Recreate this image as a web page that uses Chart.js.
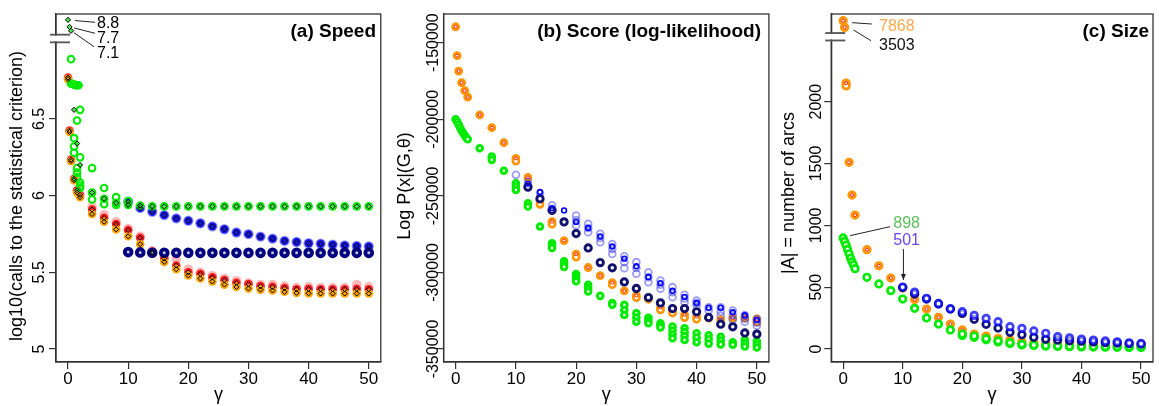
<!DOCTYPE html>
<html><head><meta charset="utf-8">
<script src="https://cdn.jsdelivr.net/npm/chart.js@4.4.1/dist/chart.umd.min.js"></script>
<style>
html,body{margin:0;padding:0;background:#fff;width:1159px;height:406px;overflow:hidden;}
.p{position:absolute;top:0;height:406px;}
</style></head><body>
<div class="p" style="left:0;width:388px"><canvas id="ca"></canvas></div>
<div class="p" style="left:388px;width:387px"><canvas id="cb"></canvas></div>
<div class="p" style="left:775px;width:384px"><canvas id="cc"></canvas></div>
<script>
// ---------- tick labels ----------
const gammaTicks = [0,10,20,30,40,50];
const speedTicks = [5,5.5,6,6.5];
const scoreTicks = [-350000,-300000,-250000,-200000,-150000];
const sizeTicks = [0,500,1000,1500,2000];

// ---------- gamma categories ----------
const gammaA = [0,0.25,0.5,1,1.5,2,4,6,8,10,12,14,16,18,20,22,24,26,28,30,32,34,36,38,40,42,44,46,48,50];
const gammaB = [10,12,14,16,18,20,22,24,26,28,30,32,34,36,38,40,42,44,46,48,50];
const gammaC = [4,6,8,10,12,14,16,18,20,22,24,26,28,30,32,34,36,38,40,42,44,46,48,50];
const gammaFine = [0,0.25,0.5,0.75,1,1.25,1.5,1.75,2];

// ---------- (a) Speed ----------
const speedOrange = [6.76,6.415,6.225,6.10,6.02,5.99,5.88,5.83,5.78,5.735,5.684,5.623,5.568,5.52,5.48,5.46,5.44,5.42,5.405,5.395,5.387,5.382,5.373,5.366,5.363,5.362,5.362,5.362,5.362,5.362];
const speedRed = [6.77,6.425,6.235,6.11,6.035,6.005,5.91,5.855,5.815,5.775,5.725,5.635,5.59,5.545,5.50,5.49,5.467,5.45,5.432,5.423,5.41,5.405,5.397,5.39,5.392,5.39,5.39,5.39,5.392,5.39];
const speedPink = [5.93,5.875,5.83,5.785,5.735,5.64,5.60,5.585,5.52,5.50,5.478,5.46,5.445,5.43,5.42,5.42,5.41,5.40,5.405,5.40,5.40,5.40,5.42,5.405];
const speedGreenDiamond = [8.8,7.7,7.1,6.56,6.34,6.20,6.02,5.98,5.953,5.94,5.935,5.93,5.93,5.93,5.93,5.93,5.93,5.93,5.93,5.93,5.93,5.93,5.93,5.93,5.93,5.93,5.93,5.93,5.93,5.93];
const speedGreenG = [0.5,0.5,0.75,1,1.25,1.5,1.75,2,1.5,1,1,1,2,1.5,1.5,1.5,2,2,2,4,4,4,6,6,6,8,8,8,10,10,12,14,16,18,20,22,24,26,28,30,32,34,36,38,40,42,44,46,48,50];
const speedGreenV = [6.89,6.73,6.73,6.725,6.72,6.72,6.72,6.56,6.49,6.375,6.32,6.28,6.25,6.18,6.15,6.12,6.085,6.065,6.05,6.18,6.02,5.975,6.05,5.98,5.945,5.99,5.953,5.94,5.965,5.94,5.935,5.93,5.93,5.93,5.93,5.93,5.93,5.93,5.93,5.93,5.93,5.93,5.93,5.93,5.93,5.93,5.93,5.93,5.93,5.93];
const speedBlue = [5.96,5.92,5.895,5.873,5.852,5.836,5.82,5.80,5.781,5.76,5.749,5.733,5.72,5.705,5.698,5.69,5.686,5.681,5.676,5.672,5.669];
const speedNavy = [5.632,5.630,5.628,5.627,5.627,5.627,5.627,5.627,5.627,5.627,5.627,5.627,5.627,5.627,5.627,5.627,5.627,5.627,5.627,5.627,5.627];
const speedBreak = [7.0,7.05];

// ---------- (b) Score ----------
const scoreOrange = [-139600,-158500,-168500,-176100,-181300,-185600,-197200,-205500,-215300,-225500,-238000,-253000,-266800,-279200,-288100,-296800,-302100,-306600,-312100,-315100,-317500,-322900,-325100,-327700,-328800,-329800,-330900,-329800,-329800,-330400];
const scoreOrange2G = [10,12,14,16,20,26,30,34,36,38,40,50];
const scoreOrange2V = [-227300,-243500,-255500,-268500,-290000,-308000,-316500,-324500,-326500,-329500,-330500,-332500];
const scoreGreenG = [0,0.25,0.5,0.75,1,1.25,1.5,1.75,2,4,6,6,8,10,10,10,12,12,14,16,16,16,18,18,18,20,20,20,20,22,22,22,24,26,26,28,28,28,30,30,30,32,32,32,34,34,34,36,36,36,36,38,38,38,38,40,40,40,42,42,42,44,44,44,46,46,48,48,48,50,50,50];
const scoreGreenV = [-200000,-201500,-203500,-205500,-207500,-209000,-210500,-212000,-213000,-218900,-224400,-226500,-233600,-241800,-244000,-246200,-254800,-257000,-270000,-281000,-282500,-284000,-292800,-294500,-296400,-301000,-302600,-304200,-305800,-308000,-310200,-312400,-315300,-320000,-321000,-321200,-324500,-327800,-326700,-329500,-332200,-329600,-331400,-333200,-333200,-334600,-335900,-335400,-338000,-340500,-343000,-336500,-339000,-341500,-344100,-339700,-342600,-345600,-341000,-343700,-346500,-342000,-344500,-347000,-345600,-347200,-344000,-346200,-348400,-345000,-347000,-349000];
const scoreNavyG = [12,14,16,18,20,22,24,26,28,30,32,34,36,38,40,42,44,46,48,50];
const scoreNavyV = [-244300,-251900,-259400,-267000,-274600,-284000,-293600,-297000,-306200,-310500,-316400,-319900,-323600,-323600,-325700,-329400,-333800,-335500,-339500,-340300];
const scoreLightG = [10,12,14,16,16,20,20,20,22,22,22,24,24,24,26,26,26,28,28,28,30,30,30,32,32,32,34,34,34,36,36,36,38,38,38,40,40,40,42,42,44,44,44,46,46,46,48,48,48,50,50,50];
const scoreLightV = [-236300,-240700,-248300,-256200,-259500,-262800,-266000,-269300,-268300,-271000,-273700,-274800,-277500,-280300,-281400,-284600,-287900,-289400,-293200,-297200,-293300,-297100,-300900,-299900,-303100,-306400,-305300,-308000,-310700,-309600,-312900,-316200,-314600,-317000,-319400,-318400,-320000,-321600,-322700,-324900,-322700,-325500,-328200,-324900,-327900,-330900,-327800,-330000,-332200,-330400,-332600,-334800];
const scoreBlueG = [12,14,16,18,20,22,24,26,28,30,32,34,36,38,40,42,44,46,48,50];
const scoreBlueV = [-242000,-247500,-258000,-259500,-267000,-271000,-276500,-283000,-291000,-296000,-303000,-307000,-312000,-316000,-320000,-323000,-323000,-326000,-328000,-331000];

// ---------- (c) Size ----------
const sizeOrange = [7868,3503,2150,1510,1245,1083,803,673,574,493,400,323,256,202,154,121,105,86,73,59,51,46,40,37,35,34,33,32,32,32];
const sizeOrange2G = [0.5];
const sizeOrange2V = [2128];
const sizeGreenFine = [898,870,840,805,770,735,705,680,650];
const sizeGreen = [580,526,472,404,329,251,202,154,121,105,83,65,51,38,32,27,25,23,21,20,19,18,17,16];
const sizeGreen2G = [20,22,24,26,28,30,32,34,36,38,40,42,44,46,48,50];
const sizeGreen2V = [110,95,75,58,45,33,28,24,21,19,17,16,15,14,13,12];
const sizeNavy = [497,445,404,364,323,288,240,200,170,135,115,95,80,73,67,63,58,52,48,44,40];
const sizeBlue = [501,460,410,368,326,302,272,248,221,180,167,146,127,100,90,80,72,65,58,50,45];
const sizeBreak = [2495,2555];

// ---------- helpers ----------
const FAM = '"Liberation Sans", Arial, Helvetica, sans-serif';
Chart.defaults.font.family = FAM;
const brkSpeed = v => v > 7.0 ? 7.071 + 0.042 * (v - 7.0) : v;
const brkSize = v => v > 2600 ? 2557.7 + 0.01237 * v : v;
function pts(g, v, f) { return g.map((gx, i) => ({ x: gx, y: f ? f(v[i]) : v[i] })); }
function mk(data, o) {
  return Object.assign({ data, showLine: false, pointStyle: 'circle', pointRadius: 4,
    pointHoverRadius: o.pointRadius || 4, pointBorderWidth: 0,
    pointBorderColor: 'rgba(0,0,0,0)', pointBackgroundColor: 'rgba(0,0,0,0)' }, o);
}
function ordered(list) { list.forEach((d, i) => { d.order = list.length - i; }); return list; }

function axesPlugin(cfg) {
  return {
    id: 'axes_' + cfg.name,
    afterDraw(chart) {
      const { ctx, chartArea: a, scales: { x, y } } = chart;
      ctx.save();
      ctx.strokeStyle = '#333'; ctx.lineWidth = 1.3;
      ctx.strokeRect(a.left, a.top, a.right - a.left, a.bottom - a.top);
      if (cfg.brk) {
        const y1 = y.getPixelForValue(cfg.brk[0]), y2 = y.getPixelForValue(cfg.brk[1]);
        ctx.fillStyle = '#fff';
        ctx.fillRect(a.left - 2, Math.min(y1, y2) + 1, 4, Math.abs(y2 - y1) - 2);
        ctx.strokeStyle = '#555'; ctx.lineWidth = 1.8;
        [y1, y2].forEach(py => { ctx.beginPath(); ctx.moveTo(a.left - 6, py); ctx.lineTo(a.left + 14, py); ctx.stroke(); });
      }
      ctx.fillStyle = '#000';
      ctx.font = cfg.tickSize + 'px ' + FAM; ctx.textAlign = 'center'; ctx.textBaseline = 'alphabetic';
      y.ticks.forEach(t => {
        const py = y.getPixelForValue(t.value);
        ctx.save(); ctx.translate(cfg.tickX, py); ctx.rotate(-Math.PI / 2);
        ctx.fillText(String(t.value), 0, 0); ctx.restore();
      });
      ctx.font = '18px ' + FAM; ctx.textBaseline = 'middle';
      ctx.save(); ctx.translate(cfg.titleX, cfg.titleY); ctx.rotate(-Math.PI / 2);
      ctx.fillText(cfg.yTitle, 0, 0); ctx.restore();
      ctx.font = 'bold 19px ' + FAM; ctx.textAlign = 'right'; ctx.textBaseline = 'alphabetic';
      ctx.fillText(cfg.title, cfg.titleRight, 36.7);
      if (cfg.annot) cfg.annot(ctx, x, y);
      ctx.restore();
    }
  };
}

function line(ctx, x1, y1, x2, y2) { ctx.beginPath(); ctx.moveTo(x1, y1); ctx.lineTo(x2, y2); ctx.stroke(); }

function makeChart(id, datasets, yMin, yMax, yTickVals, padRight, yWidth, plugin) {
  const tickFont = { size: 17, family: FAM };
  return new Chart(document.getElementById(id), {
    type: 'scatter',
    data: { datasets: ordered(datasets) },
    options: {
      responsive: true, maintainAspectRatio: false, animation: false, events: [],
      layout: { padding: { top: 14, right: padRight, left: 0, bottom: 0 } },
      plugins: { legend: { display: false }, tooltip: { enabled: false } },
      scales: {
        x: { type: 'linear', min: -2, max: 52,
          afterBuildTicks: s => { s.ticks = gammaTicks.map(v => ({ value: v })); },
          afterFit: s => { s.height = 44; },
          grid: { display: true, drawOnChartArea: false, drawTicks: true, tickLength: 7, tickColor: '#333', color: '#333', lineWidth: 1.2 },
          border: { display: true, color: '#333', width: 1.3 },
          ticks: { font: tickFont, color: '#000', padding: 0, maxRotation: 0, minRotation: 0, autoSkip: false, callback: v => String(v) },
          title: { display: true, text: 'γ', font: { size: 18, family: FAM }, color: '#000', padding: 0 }
        },
        y: { type: 'linear', min: yMin, max: yMax,
          afterBuildTicks: s => { s.ticks = yTickVals.map(v => ({ value: v })); },
          afterFit: s => { s.width = yWidth; },
          grid: { display: true, drawOnChartArea: false, drawTicks: true, tickLength: 7, tickColor: '#333', color: '#333', lineWidth: 1.2 },
          border: { display: true, color: '#333', width: 1.3 },
          ticks: { display: false, autoSkip: false },
          title: { display: false }
        }
      }
    },
    plugins: [plugin]
  });
}

const GREEN = 'rgb(0,235,0)';

// ---------- chart (a) ----------
makeChart('ca', [
  mk(pts(gammaC, speedPink), { pointRadius: 4.8, pointBackgroundColor: 'rgba(255,70,70,0.38)' }),
  mk(pts(gammaA, speedRed), { pointRadius: 4.3, pointBackgroundColor: 'rgba(255,0,0,0.85)' }),
  mk(pts(gammaA, speedOrange), { pointRadius: 4.3, pointBackgroundColor: '#FFA500' }),
  mk(pts(gammaB, speedBlue), { pointRadius: 5.2, pointBackgroundColor: 'rgba(40,40,255,0.45)' }),
  mk(pts(gammaB, speedBlue), { pointRadius: 4.2, pointBackgroundColor: 'rgba(10,10,235,0.9)' }),
  mk(pts(gammaB, speedNavy), { pointRadius: 3.4, pointBorderWidth: 3.8, pointBorderColor: '#000080', pointBackgroundColor: '#c8c8d8' }),
  mk(pts(speedGreenG, speedGreenV), { pointRadius: 3.3, pointBorderWidth: 2.1, pointBorderColor: GREEN }),
  mk(pts(gammaA, speedRed), { pointStyle: 'rectRot', pointRadius: 2.5, pointBorderWidth: 1, pointBorderColor: '#000' }),
  mk(pts(gammaA, speedOrange), { pointStyle: 'rectRot', pointRadius: 2.5, pointBorderWidth: 1, pointBorderColor: '#000' }),
  mk(pts(gammaB, speedBlue), { pointStyle: 'rectRot', pointRadius: 2.5, pointBorderWidth: 1, pointBorderColor: '#000' }),
  mk(pts(gammaA, speedGreenDiamond, brkSpeed), { pointStyle: 'rectRot', pointRadius: 2.6, pointBorderWidth: 1, pointBorderColor: '#000', pointBackgroundColor: 'rgba(0,220,0,0.7)' })
], 4.9152, 7.1848, speedTicks, 5, 56, axesPlugin({
  name: 'a', brk: speedBreak, tickX: 44.2, tickSize: 16, titleX: 17.5, titleY: 196,
  yTitle: 'log10(calls to the statistical criterion)', title: '(a) Speed', titleRight: 376,
  annot(ctx, x, y) {
    ctx.strokeStyle = '#222'; ctx.lineWidth = 1; ctx.fillStyle = '#000';
    ctx.font = '16px ' + FAM; ctx.textAlign = 'left'; ctx.textBaseline = 'middle';
    const off = [[7, 0.7, 95, 22.3, 23.3], [4.5, 1, 95, 33.3, 38.3], [3, 2, 94, 46.7, 53.3]];
    off.forEach((o, i) => {
      const px = x.getPixelForValue(gammaA[i]), py = y.getPixelForValue(brkSpeed(speedGreenDiamond[i]));
      line(ctx, px + o[0], py + o[1], o[2], o[3]);
      ctx.fillText(String(speedGreenDiamond[i]), 97, o[4]);
    });
  }
}));

// ---------- chart (b) ----------
makeChart('cb', [
  mk(pts(scoreGreenG, scoreGreenV), { pointRadius: 2.8, pointBorderWidth: 3, pointBorderColor: GREEN, pointBackgroundColor: '#fff' }),
  mk(pts(gammaA, scoreOrange), { pointRadius: 3.1, pointBorderWidth: 2.6, pointBorderColor: '#FF9500', pointBackgroundColor: '#fff' }),
  mk(pts(scoreOrange2G, scoreOrange2V), { pointRadius: 3.1, pointBorderWidth: 2.6, pointBorderColor: '#FF9500', pointBackgroundColor: '#fff' }),
  mk(pts(gammaA, scoreOrange), { pointRadius: 1.5, pointBorderWidth: 1, pointBorderColor: '#FF2000', pointBackgroundColor: '#fff' }),
  mk(pts(scoreLightG, scoreLightV), { pointRadius: 3.4, pointBorderWidth: 1.8, pointBorderColor: 'rgba(60,60,230,0.5)' }),
  mk(pts(scoreNavyG, scoreNavyV), { pointRadius: 3.2, pointBorderWidth: 2.9, pointBorderColor: '#12126E', pointBackgroundColor: '#fff' }),
  mk(pts(scoreBlueG, scoreBlueV), { pointRadius: 2.4, pointBorderWidth: 1.6, pointBorderColor: '#0000FF' })
], -358488, -131260, scoreTicks, 5.2, 55.6, axesPlugin({
  name: 'b', brk: null, tickX: 49.7, tickSize: 16, titleX: 17.5, titleY: 186,
  yTitle: 'Log P(x|(G,θ)', title: '(b) Score (log-likelihood)', titleRight: 373
}));

// ---------- chart (c) ----------
makeChart('cc', [
  mk(pts(gammaA, sizeOrange, brkSize), { pointRadius: 3.3, pointBorderWidth: 2.7, pointBorderColor: '#FF9500', pointBackgroundColor: '#fff' }),
  mk(pts(sizeOrange2G, sizeOrange2V), { pointRadius: 3.3, pointBorderWidth: 2.7, pointBorderColor: '#FF9500', pointBackgroundColor: '#fff' }),
  mk(pts(gammaA, sizeOrange, brkSize), { pointRadius: 1.5, pointBorderWidth: 1, pointBorderColor: '#FF2000', pointBackgroundColor: '#fff' }),
  mk(pts(sizeGreen2G, sizeGreen2V), { pointRadius: 3.3, pointBorderWidth: 2.7, pointBorderColor: GREEN, pointBackgroundColor: '#fff' }),
  mk(pts(gammaFine.concat(gammaC), sizeGreenFine.concat(sizeGreen)), { pointRadius: 3.3, pointBorderWidth: 2.7, pointBorderColor: GREEN, pointBackgroundColor: '#fff' }),
  mk(pts(gammaB, sizeNavy), { pointRadius: 3.3, pointBorderWidth: 2.7, pointBorderColor: '#12127A', pointBackgroundColor: '#fff' }),
  mk(pts(gammaB, sizeBlue), { pointRadius: 3.3, pointBorderWidth: 2.7, pointBorderColor: 'rgba(0,0,255,0.75)', pointBackgroundColor: 'rgba(255,255,255,0.6)' })
], -105, 2709, sizeTicks, 0.9, 56.2, axesPlugin({
  name: 'c', brk: sizeBreak, tickX: 45.7, tickSize: 16, titleX: 14.5, titleY: 193,
  yTitle: '|A| = number of arcs', title: '(c) Size', titleRight: 374,
  annot(ctx, x, y) {
    ctx.strokeStyle = '#222'; ctx.lineWidth = 1;
    ctx.font = '16px ' + FAM; ctx.textAlign = 'left'; ctx.textBaseline = 'middle';
    const p0x = x.getPixelForValue(gammaA[0]), p0y = y.getPixelForValue(brkSize(sizeOrange[0]));
    const p1x = x.getPixelForValue(gammaA[1]), p1y = y.getPixelForValue(brkSize(sizeOrange[1]));
    line(ctx, p0x + 9, p0y + 2, 96.7, 24);
    line(ctx, p1x + 9, p1y + 2.7, 96, 40.7);
    ctx.fillStyle = '#FFA94D'; ctx.fillText(String(sizeOrange[0]), 104, 26.7);
    ctx.fillStyle = '#111'; ctx.fillText(String(sizeOrange[1]), 104, 45.7);
    const gx = x.getPixelForValue(gammaFine[0]), gy = y.getPixelForValue(sizeGreenFine[0]);
    line(ctx, gx + 7, gy - 2.3, 115, 226.7);
    ctx.fillStyle = '#5CBF5C'; ctx.fillText(String(sizeGreenFine[0]), 118.3, 223.3);
    ctx.fillStyle = '#6A45F0'; ctx.fillText(String(sizeBlue[0]), 118.3, 241);
    const bx = x.getPixelForValue(gammaB[0]) + 0.7, by = y.getPixelForValue(sizeBlue[0]) - 7;
    line(ctx, bx, 249, bx, by);
    ctx.fillStyle = '#222';
    ctx.beginPath(); ctx.moveTo(bx, by); ctx.lineTo(bx - 2.5, by - 6); ctx.lineTo(bx + 2.5, by - 6); ctx.closePath(); ctx.fill();
  }
}));
</script>
</body></html>
